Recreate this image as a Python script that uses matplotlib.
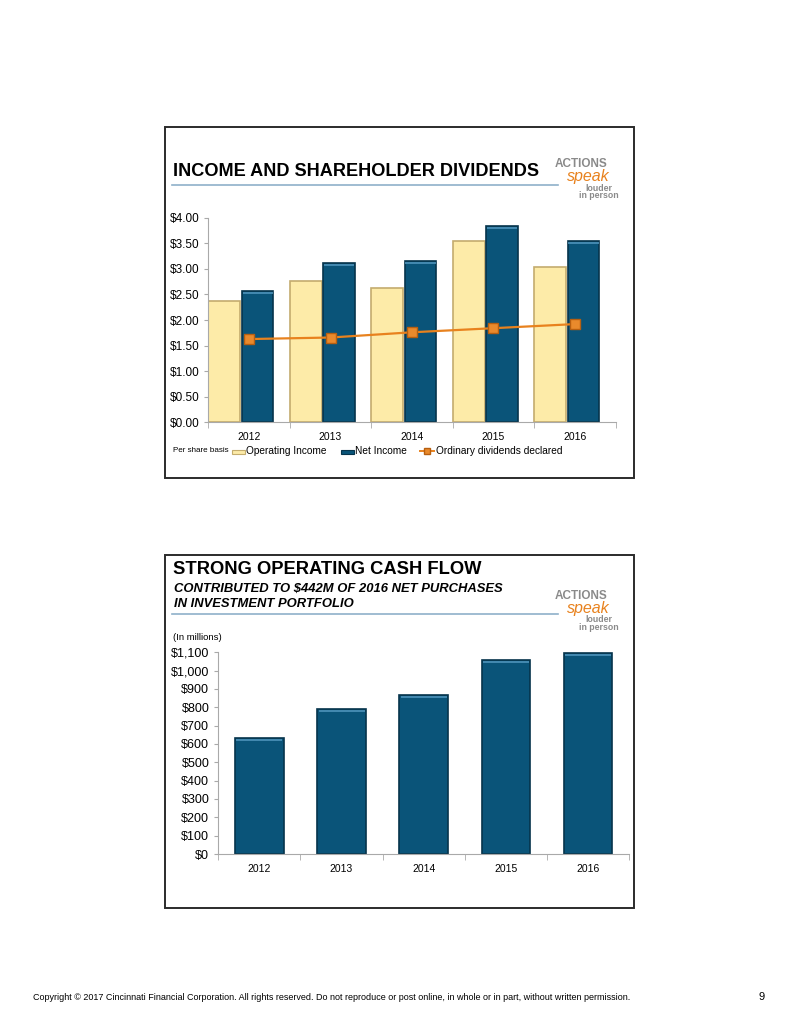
import numpy as np
import matplotlib
matplotlib.use("Agg")
import matplotlib.pyplot as plt
from matplotlib.patches import Rectangle
from matplotlib.lines import Line2D

plt.rcParams['font.family'] = ['Liberation Sans', 'DejaVu Sans']

# data
years = ['2012', '2013', '2014', '2015', '2016']
operating_income = [2.37, 2.77, 2.63, 3.54, 3.03]
net_income = [2.57, 3.12, 3.16, 3.83, 3.55]
dividends = [1.6275, 1.6575, 1.76, 1.84, 1.92]
div_ticks = [0, 0.5, 1.0, 1.5, 2.0, 2.5, 3.0, 3.5, 4.0]

cash_flow = [635, 793, 869, 1060, 1097]
cash_ticks = list(range(0, 1101, 100))

W, H = 799, 1034
fig = plt.figure(figsize=(W / 100, H / 100), dpi=100)
fig.patch.set_facecolor('white')

YELLOW = '#FDEBA8'
YELLOW_EDGE = '#C4AC6E'
BLUE = '#0A5479'
BLUE_EDGE = '#06344C'
BLUE_TOP = '#4E93BA'
ORANGE = '#E8821E'
GRID_GRAY = '#A9A9A9'
LOGO_GRAY = '#8A8A8A'


def fx(px):
    return px / W


def fy(py):
    return 1 - py / H


def add_axes_px(left, top, right, bottom):
    return fig.add_axes([fx(left), fy(bottom), fx(right - left), (bottom - top) / H])


def panel_frame(left, top, right, bottom):
    fig.add_artist(Rectangle((fx(left), fy(bottom)), fx(right - left), (bottom - top) / H,
                             transform=fig.transFigure, fill=False, edgecolor='#2b2b2b', lw=1.4))


def logo(x, y):
    # y is the centre of the "ACTIONS" word
    fig.text(fx(x), fy(y), 'ACTIONS', color=LOGO_GRAY, fontsize=8.5, fontweight='bold',
             ha='left', va='center')
    fig.text(fx(x + 12), fy(y + 13), 'speak', color=ORANGE, fontsize=11.5, fontstyle='italic',
             ha='left', va='center')
    fig.text(fx(x + 30), fy(y + 24), 'louder', color=LOGO_GRAY, fontsize=6.3, fontweight='bold',
             ha='left', va='center')
    fig.text(fx(x + 24), fy(y + 32), 'in person', color=LOGO_GRAY, fontsize=6.3, fontweight='bold',
             ha='left', va='center')


def style_axes(ax):
    for s in ['top', 'right']:
        ax.spines[s].set_visible(False)
    ax.spines['left'].set_color(GRID_GRAY)
    ax.spines['bottom'].set_color(GRID_GRAY)
    ax.set_facecolor('none')
    ax.tick_params(axis='y', colors=GRID_GRAY, length=3, labelcolor='black')
    ax.set_xticks(np.arange(len(years)) + 0.5)
    ax.set_xticklabels(years)
    ax.set_xticks(np.arange(len(years) + 1), minor=True)
    ax.tick_params(axis='x', which='major', length=0, pad=7, labelsize=7.5)
    ax.tick_params(axis='x', which='minor', length=4, colors=GRID_GRAY)
    ax.set_xlim(0, len(years))


# ---------- panel 1 ----------
panel_frame(165, 127, 634, 478)
fig.text(fx(173), fy(172), 'INCOME AND SHAREHOLDER DIVIDENDS', fontsize=13.1,
         fontweight='bold', ha='left', va='center')
fig.add_artist(Line2D([fx(172), fx(558)], [fy(185), fy(185)], color='#8FB0C9', lw=1.2))
logo(555, 164)

ax1 = add_axes_px(208.3, 217.7, 615.7, 422.3)
x = np.arange(len(years))
ax1.bar(x + 0.195, operating_income, width=0.39, color=YELLOW, edgecolor=YELLOW_EDGE, lw=1.2)
ax1.bar(x + 0.605, net_income, width=0.39, color=BLUE, edgecolor=BLUE_EDGE, lw=1.2)
ax1.hlines(np.array(net_income) - 0.04, x + 0.42, x + 0.79, color=BLUE_TOP, lw=1.2)
ax1.plot(x + 0.5, dividends, color=ORANGE, lw=1.6, marker='s', markersize=7,
         markerfacecolor='#E98A2C', markeredgecolor='#B75F10', zorder=5)
ax1.set_ylim(0, 4)
ax1.set_yticks(div_ticks)
ax1.set_yticklabels(['$%.2f' % v for v in div_ticks], fontsize=8.5)
style_axes(ax1)

# legend
fig.text(fx(173), fy(451), 'Per share basis', fontsize=5.8, ha='left', va='center')
fig.add_artist(Rectangle((fx(232), fy(454)), fx(13), 3.5 / H, transform=fig.transFigure,
                         facecolor=YELLOW, edgecolor=YELLOW_EDGE, lw=0.8))
fig.text(fx(246), fy(451), 'Operating Income', fontsize=7.3, ha='left', va='center')
fig.add_artist(Rectangle((fx(341), fy(454)), fx(13), 3.5 / H, transform=fig.transFigure,
                         facecolor=BLUE, edgecolor=BLUE_EDGE, lw=0.8))
fig.text(fx(355), fy(451), 'Net Income', fontsize=7.3, ha='left', va='center')
fig.add_artist(Line2D([fx(420), fx(434)], [fy(451), fy(451)], color=ORANGE, lw=1.4))
fig.add_artist(Line2D([fx(427)], [fy(451)], color=ORANGE, marker='s', markersize=5,
                      markerfacecolor='#E98A2C', markeredgecolor='#B75F10'))
fig.text(fx(436), fy(451), 'Ordinary dividends declared', fontsize=7.3, ha='left', va='center')

# ---------- panel 2 ----------
panel_frame(165, 555, 634, 908)
fig.text(fx(173), fy(569), 'STRONG OPERATING CASH FLOW', fontsize=13.2,
         fontweight='bold', ha='left', va='center')
fig.text(fx(174), fy(589), 'CONTRIBUTED TO $442M OF 2016 NET PURCHASES', fontsize=9.35,
         fontweight='bold', fontstyle='italic', ha='left', va='center')
fig.text(fx(174), fy(604), 'IN INVESTMENT PORTFOLIO', fontsize=9.35,
         fontweight='bold', fontstyle='italic', ha='left', va='center')
fig.add_artist(Line2D([fx(172), fx(558)], [fy(614), fy(614)], color='#8FB0C9', lw=1.2))
logo(555, 596)
fig.text(fx(173), fy(638), '(In millions)', fontsize=6.8, ha='left', va='center')

ax2 = add_axes_px(218.3, 652.3, 629, 854)
ax2.bar(x + 0.5, cash_flow, width=0.59, color=BLUE, edgecolor=BLUE_EDGE, lw=1.2)
ax2.hlines(np.array(cash_flow) - 12, x + 0.22, x + 0.78, color=BLUE_TOP, lw=1.2)
ax2.set_ylim(0, 1100)
ax2.set_yticks(cash_ticks)
ax2.set_yticklabels(['${:,}'.format(v) for v in cash_ticks], fontsize=9)
style_axes(ax2)

# footer
fig.text(fx(33), fy(997), 'Copyright \u00a9 2017 Cincinnati Financial Corporation. All rights reserved. '
         'Do not reproduce or post online, in whole or in part, without written permission.',
         fontsize=6.5, ha='left', va='center')
fig.text(fx(762), fy(997), '9', fontsize=8, ha='center', va='center')

fig.savefig('out.png', dpi=100)
